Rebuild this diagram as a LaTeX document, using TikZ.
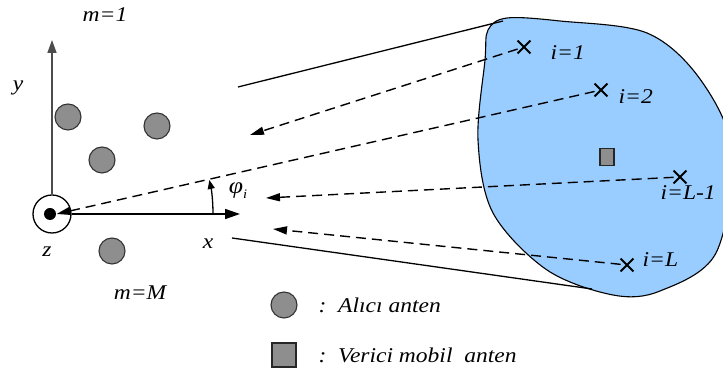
\documentclass[tikz,border=0pt]{standalone}
\usepackage{fontspec}
\setmainfont{Liberation Serif}[FakeStretch=1.12]
\usepackage{tikz}
\usetikzlibrary{arrows.meta,shapes.misc}
\definecolor{blobblue}{HTML}{99CCFF}
\definecolor{antgray}{HTML}{8E8E8E}

\begin{document}
\begin{tikzpicture}[x=1pt, y=1pt, line width=1.3pt,
  lbl/.style={font=\fontsize{21}{24}\selectfont\itshape, inner sep=0pt},
  ray/.style={dash pattern=on 10pt off 6pt, line width=1.4pt,
    -{Triangle[length=14pt,width=8pt]}},
  rxant/.style={circle, draw=black!80, fill=antgray, minimum size=26pt,
    inner sep=0pt, line width=1.1pt},
  txant/.style={rectangle, draw=black!85, fill=antgray, inner sep=0pt,
    line width=1.1pt},
  elem/.style={cross out, draw, minimum size=11pt, inner sep=0pt,
    line width=1.8pt}]

  \useasboundingbox (0,0) rectangle (723,371);

  % -- the scattering region, a smooth blob cut by the right edge
  \fill[blobblue, draw=black, line width=1.1pt] plot[smooth cycle, tension=0.55]
    coordinates {(488,341) (507,353) (560,350) (647,338) (700,292) (732,220)
                 (716,118) (660,80) (613,76) (547,101) (493,158) (478,231)
                 (485,311)};

  % -- the two tangents from the array to the region
  \coordinate (tu0) at (238,284);  \coordinate (tu1) at (503,350);
  \coordinate (tl0) at (232,133);  \coordinate (tl1) at (592,82);
  \draw (tu0) -- (tu1);
  \draw (tl0) -- (tl1);

  % -- receiving antennas and the array reference at the origin
  \foreach \px/\py/\nm in {68/254/r1, 157/245/r2, 102/211/r3, 112/120/r4}{
    \node[rxant] (\nm) at (\px,\py) {};}
  \node[circle, draw, minimum size=38pt, inner sep=0pt] (org) at (52,157) {};
  \node[circle, fill=black, minimum size=12pt, inner sep=0pt] (dot) at (50,157) {};

  % axes
  \coordinate (ytip) at (52,331);
  \coordinate (xtip) at (240,157);
  \draw[black!70, line width=1.6pt, -{Triangle[length=13pt,width=9pt]}] (org.north) -- (ytip);
  \draw[line width=1.6pt, -{Triangle[length=15pt,width=10pt]}] (org.east) -- (xtip);
  \node[lbl] (ylab) at (18,283) {y};
  \node[lbl] (xlab) at (208,127) {x};
  \node[lbl] (zlab) at (47,119) {z};
  \node[lbl] (mtop) at (105,356) {m=1};
  \node[lbl] (mbot) at (140,78) {m=M};

  % -- scatterers, the mobile, and the rays that reach the array
  \node[elem] (s1) at (524,324) {};
  \node[elem] (s2) at (601,281) {};
  \node[elem] (s3) at (680,194) {};
  \node[elem] (s4) at (627,106) {};
  \node[lbl, anchor=west] (s1lab) at (550,318) {i=1};
  \node[lbl, anchor=west] (s2lab) at (618,274) {i=2};
  \node[lbl, anchor=west] (s3lab) at (660,178) {i=L-1};
  \node[lbl, anchor=west] (s4lab) at (642,111) {i=L};
  \node[txant, minimum width=14pt, minimum height=17pt] (mob) at (607,214) {};

  \coordinate (e1) at (250,236);
  \coordinate (e3) at (266,173);
  \coordinate (e4) at (273,142);
  \draw[ray] (s1) -- (e1);
  \draw[ray] (s2) -- (dot.east);
  \draw[ray] (s3) -- (e3);
  \draw[ray] (s4) -- (e4);

  % angle of arrival
  \draw[line width=1.3pt, -{Triangle[length=9pt,width=7pt]}]
    (213,157) arc[start angle=0, end angle=12.2, radius=161];
  \node[lbl, font=\fontsize{23}{26}\selectfont\itshape] (philab) at (238,180)
    {φ\raisebox{-5pt}{\fontsize{13}{13}\selectfont i}};

  % -- legend
  \node[rxant] (legrx) at (284,66) {};
  \node[txant, minimum size=24pt] (legtx) at (284,16) {};
  \node[lbl, anchor=west] (legrxt) at (318,66) {:\ \ Alıcı anten};
  \node[lbl, anchor=west] (legtxt) at (318,16) {:\ \ Verici mobil\ \ anten};

\end{tikzpicture}
\end{document}
